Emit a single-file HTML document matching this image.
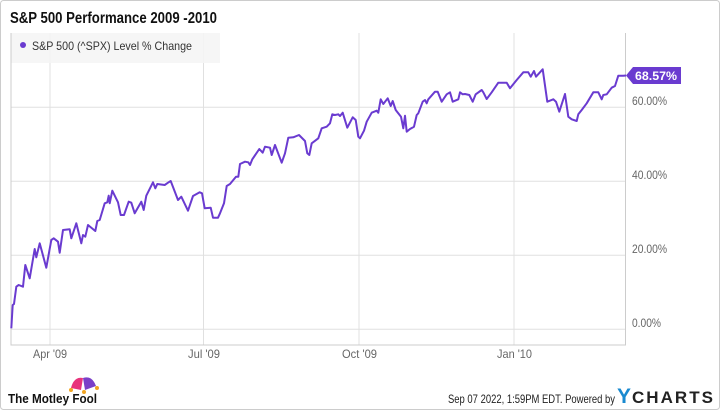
<!DOCTYPE html>
<html><head><meta charset="utf-8"><style>
body{margin:0;width:720px;height:410px;background:#fff;font-family:"Liberation Sans",sans-serif;overflow:hidden}
</style></head><body>
<svg width="720" height="410" viewBox="0 0 720 410" xmlns="http://www.w3.org/2000/svg" font-family="Liberation Sans, sans-serif">
<rect x="0.5" y="0.5" width="719" height="409" rx="3" fill="#fff" stroke="#ccc"/>
<text x="10" y="23" font-size="16" font-weight="bold" fill="#111" textLength="207" lengthAdjust="spacingAndGlyphs">S&amp;P 500 Performance 2009 -2010</text>
<g stroke="#e0e0e0" stroke-width="1">
<line x1="11" y1="107.3" x2="625" y2="107.3"/><line x1="11" y1="181.3" x2="625" y2="181.3"/>
<line x1="11" y1="255.3" x2="625" y2="255.3"/><line x1="11" y1="329.3" x2="625" y2="329.3"/>
<line x1="50" y1="33" x2="50" y2="345"/><line x1="203.5" y1="33" x2="203.5" y2="345"/>
<line x1="359" y1="33" x2="359" y2="345"/><line x1="514" y1="33" x2="514" y2="345"/>
</g>
<rect x="11" y="33" width="209" height="30" fill="#f5f5f5" opacity="0.9"/>
<path d="M11 33V345H625.5V33" fill="none" stroke="#ccc"/>
<circle cx="23" cy="45" r="3" fill="#6a3bd0"/>
<text x="32" y="50" font-size="12" fill="#333" textLength="160" lengthAdjust="spacingAndGlyphs">S&amp;P 500 (^SPX) Level % Change</text>
<polyline fill="none" stroke="#6a3bd0" stroke-width="2" stroke-linejoin="round" points="11.3,328.3 12.7,305 14,304 16.3,286.7 18.7,285 23,286.7 25.3,265 29.7,278.3 34.7,249 36.3,257.3 39.7,243.3 46.3,267.7 51.3,240 53.7,238.3 58,241.7 59.7,252.7 63,230 69.7,229.3 71.3,238.3 76.3,223.3 81.3,243.3 83,235 85.3,236.7 88,225 95.3,231 97.3,221 99.7,220 104.7,203.3 107.3,202.3 108.7,195.7 109.7,203.3 112.3,190.7 118,202.3 120.7,215 124,215 128.7,201.7 131.3,202.7 134.7,213.3 141.3,201.7 143.7,210 146.3,195.7 153,182.3 155.3,188.3 157.3,184 164.7,185 168,182.7 170.7,181 178,200 181.3,196.7 188,210.7 193,196 199.7,192.3 202,193.3 204.7,208.3 210.7,207.7 213,217.7 218,217.7 220,213.3 224,203.3 226.7,186 230,184 236,176.7 238.3,176.7 240,164 245,161.7 248.3,162.3 250,165 252.3,159.3 259.3,149 262.7,152.7 265,146.7 270,147.7 271.7,155 275,145 281.7,162.7 285,153.3 288.3,137.7 293.3,137.3 299,135 305,141 307.3,153.3 309.3,155 311.7,143.3 318.3,138.3 321.7,128.3 326.7,126.7 330,123.3 332.3,114.3 335,115 338.3,114.3 340,116 342.7,112.7 347.3,127.7 352.7,117.3 355.7,120 358.3,136.7 360,138.3 364,130.7 366.7,121.7 371.7,112.7 376.7,110.7 378.3,112.7 380.7,99.3 383.3,104 387.7,98.3 390.7,106 392.7,101 395.7,110 401,116.7 403.3,128.3 405,115.7 406.7,131.7 410,129 414,126.7 416.7,115 418.3,113.3 422.7,101.7 425,100 426.7,103.3 428.3,99.3 435,91.7 437.7,91.7 441.7,101.7 446.7,94.3 450,92.3 452.7,101.7 458.3,99.3 460,92.3 462.7,94.3 465,94 469.3,95 472.7,101.7 475.7,94.3 481.7,90 483.3,92.3 486.7,99 491.7,92.3 498.3,82.7 506.7,82.7 510,88.3 516.7,80 523.3,72.3 528.3,72.3 530.7,76.7 534,71 536,76.7 542.7,69.3 547.3,101.7 553.3,99.3 556,101.7 559.3,111.7 565,94 568.3,116.7 571.7,119.3 576.7,121 578.3,114.3 581.7,110 586.7,103.3 593.3,92.3 598.3,92.3 601.7,99.3 603.3,95 606.7,94.3 611.7,87.7 615,86 618.3,75.7 623.3,75.7 626,75.5"/>
<path d="M626 75.5L633 67H681V84H633Z" fill="#6a3bd0"/>
<text x="635" y="80" font-size="12" font-weight="bold" fill="#fff" textLength="42" lengthAdjust="spacingAndGlyphs">68.57%</text>
<g font-size="12" fill="#666">
<text x="632" y="105" textLength="35" lengthAdjust="spacingAndGlyphs">60.00%</text><text x="632" y="179" textLength="35" lengthAdjust="spacingAndGlyphs">40.00%</text>
<text x="632" y="253" textLength="35" lengthAdjust="spacingAndGlyphs">20.00%</text><text x="632" y="327" textLength="29" lengthAdjust="spacingAndGlyphs">0.00%</text>
</g>
<g font-size="12" fill="#666">
<text x="33" y="358" textLength="34" lengthAdjust="spacingAndGlyphs">Apr '09</text><text x="188" y="358" textLength="32" lengthAdjust="spacingAndGlyphs">Jul '09</text>
<text x="342" y="358" textLength="35" lengthAdjust="spacingAndGlyphs">Oct '09</text><text x="497" y="358" textLength="35" lengthAdjust="spacingAndGlyphs">Jan '10</text>
</g>
<path d="M71 388Q74 376 83 378L81 390Z" fill="#e8337c"/>
<path d="M83 378Q92 375 96 386L85 390Z" fill="#7a3fc8"/>
<circle cx="71" cy="390" r="2" fill="#f2a623"/><circle cx="84" cy="392" r="2" fill="#f2a623"/><circle cx="97" cy="388" r="2" fill="#f2a623"/>
<text x="8" y="403" font-size="13" font-weight="bold" fill="#111" textLength="89" lengthAdjust="spacingAndGlyphs">The Motley Fool</text>
<text x="448" y="403" font-size="12" fill="#222" textLength="167" lengthAdjust="spacingAndGlyphs">Sep 07 2022, 1:59PM EDT.  Powered by</text>
<text x="617" y="403" font-size="21" font-weight="bold" fill="#1a8ad0">Y</text>
<text x="632" y="403" font-size="17" font-weight="bold" fill="#222" textLength="81" lengthAdjust="spacing">CHARTS</text>
</svg>
</body></html>
